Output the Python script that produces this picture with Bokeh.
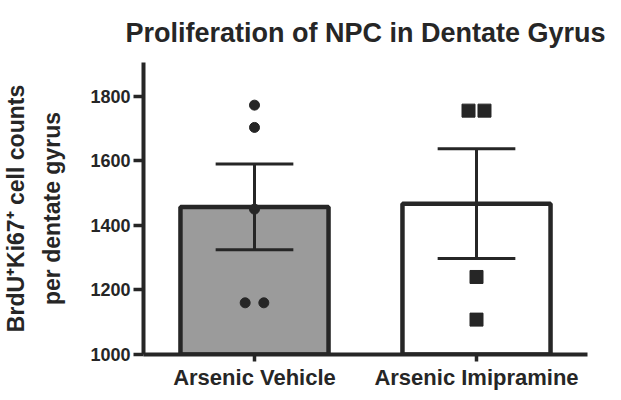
from bokeh.plotting import figure
from bokeh.models import Range1d, FixedTicker
from bokeh.embed import file_html
from bokeh.resources import INLINE

categories = ["Arsenic Vehicle", "Arsenic Imipramine"]
bar_means = [1457, 1467]
bar_sem = [133, 170]
vehicle_points = [1772, 1703, 1450, 1160, 1160]
imipramine_points = [1755, 1755, 1240, 1108]
y_ticks = [1000, 1200, 1400, 1600, 1800]

FONT = "Liberation Sans"
INK = "#262626"

p = figure(width=605, height=392, output_backend="svg", toolbar_location=None,
           x_range=Range1d(-0.5, 1.5), y_range=Range1d(1000, 1904),
           min_border_left=142, min_border_right=18, min_border_top=62,
           min_border_bottom=34)
p.outline_line_color = None
p.xgrid.visible = False
p.ygrid.visible = False
p.background_fill_color = "white"
p.border_fill_color = "white"

xs = list(range(len(categories)))

p.vbar(x=xs, top=bar_means, bottom=1000, width=0.667,
       fill_color=["#9b9b9b", "white"], line_color=None)

veh_off = [0, 0, 0, -0.042, 0.042]
imi_off = [-0.036, 0.036, 0, 0]
p.scatter(x=[xs[0] + o for o in veh_off], y=vehicle_points, marker="circle",
          size=10, fill_color=INK, line_color=INK)
p.scatter(x=[xs[1] + o for o in imi_off], y=imipramine_points, marker="square",
          size=13, fill_color=INK, line_color=INK)

p.vbar(x=xs, top=bar_means, bottom=1000, width=0.667,
       fill_color=None, line_color=INK, line_width=4.5)

lo = [m - s for m, s in zip(bar_means, bar_sem)]
hi = [m + s for m, s in zip(bar_means, bar_sem)]
p.segment(x0=xs, y0=lo, x1=xs, y1=hi, line_color=INK, line_width=3)
cap = 0.175
p.segment(x0=[x - cap for x in xs], y0=lo, x1=[x + cap for x in xs], y1=lo,
          line_color=INK, line_width=3)
p.segment(x0=[x - cap for x in xs], y0=hi, x1=[x + cap for x in xs], y1=hi,
          line_color=INK, line_width=3)

for ax in (p.xaxis[0], p.yaxis[0]):
    ax.axis_line_color = INK
    ax.axis_line_width = 4
    ax.major_tick_line_color = INK
    ax.major_tick_line_width = 3.5
    ax.major_tick_in = 0
    ax.minor_tick_line_color = None
    ax.major_label_text_font = FONT
    ax.major_label_text_font_style = "bold"
    ax.major_label_text_color = INK

p.xaxis.ticker = FixedTicker(ticks=xs)
p.xaxis.major_label_overrides = {x: c for x, c in zip(xs, categories)}
p.xaxis.major_tick_out = 7
p.xaxis.major_label_standoff = 3
p.xaxis.major_label_text_font_size = "22px"

p.yaxis.ticker = FixedTicker(ticks=y_ticks)
p.yaxis.major_tick_out = 10
p.yaxis.major_label_standoff = 3
p.yaxis.major_label_text_font_size = "18px"

p.yaxis.axis_label = "BrdU\u207aKi67\u207a cell counts\nper dentate gyrus"
p.yaxis.axis_label_text_font = FONT
p.yaxis.axis_label_text_font_style = "bold"
p.yaxis.axis_label_text_font_size = "23px"
p.yaxis.axis_label_text_color = INK
p.yaxis.axis_label_text_line_height = 1.4
p.yaxis.axis_label_standoff = 22

p.title.text = "Proliferation of NPC in Dentate Gyrus"
p.title.align = "center"
p.title.text_font = FONT
p.title.text_font_style = "bold"
p.title.text_font_size = "27px"
p.title.text_color = INK
p.title.standoff = 30

open("out.html", "w").write(file_html(p, INLINE))
